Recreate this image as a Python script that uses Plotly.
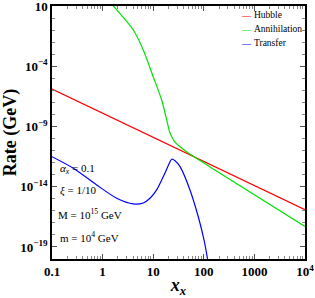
import plotly.graph_objects as go

# ---- data (log-log) ----
hubble_x = [0.1, 1e4]
hubble_y = [1.26e-6, 1.26e-16]

annih_x = [1.26, 1.63, 4.05, 6.37, 10.0, 14.7, 18.5, 21.5, 27.0, 33.9, 49.4, 133, 1e4]
annih_y = [3.5e1, 1e1, 1.02e-1, 2.24e-3, 1.35e-5, 1.58e-7, 3.47e-9, 2.88e-10,
           5.1e-11, 2.1e-11, 6.3e-12, 4.4e-13, 5.0e-18]

transfer_x = [0.1, 0.264, 0.764, 1.90, 4.05, 6.37, 8.65, 11.7, 17.1, 21.5, 23.2,
              27.0, 33.9, 53.3, 77.8, 101, 117.5, 125]
transfer_y = [3.1e-12, 3.4e-13, 1.41e-14, 1.1e-15, 3.7e-16, 4.5e-16, 1.1e-15,
              5.4e-15, 1.38e-13, 1.2e-12, 1.9e-12, 1.45e-12, 4.6e-13, 5.4e-15,
              3.2e-17, 3.8e-19, 1.26e-20, 2.5e-21]

series_names = ["Hubble", "Annihilation", "Transfer"]
series_colors = ["#ff0000", "#00e000", "#0000ff"]

x_tickvals = [0.1, 1, 10, 100, 1000, 1e4]
x_ticktext = ["0.1", "1", "10", "100", "1000", "10<sup>4</sup>"]
y_tickvals = [10, 1e-4, 1e-9, 1e-14, 1e-19]
y_ticktext = ["10", "10<sup>\u22124</sup>", "10<sup>\u22129</sup>",
              "10<sup>\u221214</sup>", "10<sup>\u221219</sup>"]

labels = ["<i>\u03b1<sub>x</sub></i> = 0.1", "<i>\u03be</i> = 1/10",
          "M = 10<sup>15</sup> GeV", "m = 10<sup>4</sup> GeV"]
label_logx = [-0.89, -0.88, -0.92, -0.88]
label_logy = [-12.5, -14.35, -16.3, -18.15]

SERIF = "Liberation Serif, Times New Roman, serif"

fig = go.Figure()
series = [(hubble_x, hubble_y, "linear"), (annih_x, annih_y, "spline"),
          (transfer_x, transfer_y, "spline")]
for (xs, ys, shp), nm, col in zip(series, series_names, series_colors):
    fig.add_trace(go.Scatter(x=xs, y=ys, mode="lines", name=nm, showlegend=False,
                             line=dict(color=col, width=1.2, shape=shp, smoothing=0.8)))

x_minor = [m * 10 ** k for k in range(-1, 4) for m in range(2, 10)]
y_minor = [10.0 ** k for k in range(-20, 2)]

fig.update_xaxes(type="log", range=[-1, 4.0001], tickvals=x_tickvals, ticktext=x_ticktext,
                 automargin=False, ticklabeloverflow="allow",
                 ticks="inside", ticklen=5, tickwidth=1, tickcolor="#555",
                 minor=dict(tickvals=x_minor, ticks="inside", ticklen=3, tickcolor="#888"),
                 showline=True, linecolor="black", linewidth=1.5, mirror="allticks",
                 showgrid=False, zeroline=False,
                 tickfont=dict(family=SERIF, size=13, color="black", weight="bold"),
                 title=dict(text="<i>x<sub>x</sub></i>",
                            font=dict(family=SERIF, size=18, color="black", weight="bold"),
                            standoff=0))
fig.update_yaxes(type="log", range=[-20, 1.0001], tickvals=y_tickvals, ticktext=y_ticktext,
                 automargin=False, ticklabeloverflow="allow",
                 ticks="inside", ticklen=5, tickwidth=1, tickcolor="#555",
                 minor=dict(tickvals=y_minor, ticks="inside", ticklen=3, tickcolor="#888"),
                 showline=True, linecolor="black", linewidth=1.5, mirror="allticks",
                 showgrid=False, zeroline=False,
                 tickfont=dict(family=SERIF, size=13, color="black", weight="bold"),
                 title=dict(text="Rate (GeV)",
                            font=dict(family=SERIF, size=18, color="black", weight="bold"),
                            standoff=0))

for t, lx, ly in zip(labels, label_logx, label_logy):
    fig.add_annotation(x=lx, y=ly, xref="x", yref="y",
                       text=t, showarrow=False, xanchor="left", yanchor="middle",
                       font=dict(family=SERIF, size=11, color="black"))

# legend (Mathematica-style: short line sample + label, stacked top right)
for i, (nm, col) in enumerate(zip(series_names, series_colors)):
    yy = 0.965 - i * 0.055
    fig.add_annotation(x=0.74, y=yy, xref="paper", yref="paper",
                       text="\u2014", showarrow=False, xanchor="left", yanchor="middle",
                       font=dict(family=SERIF, size=9, color=col))
    fig.add_annotation(x=0.79, y=yy, xref="paper", yref="paper",
                       text=nm, showarrow=False, xanchor="left", yanchor="middle",
                       font=dict(family=SERIF, size=9.5, color="black"))

fig.update_layout(
    width=315, height=298,
    margin=dict(l=52, r=10, t=6, b=39, autoexpand=False),
    paper_bgcolor="white", plot_bgcolor="white",
    showlegend=False,
)

fig.write_html("out.html", config={"displayModeBar": False},
               post_script="document.body.style.margin='0';document.body.style.padding='0';")
